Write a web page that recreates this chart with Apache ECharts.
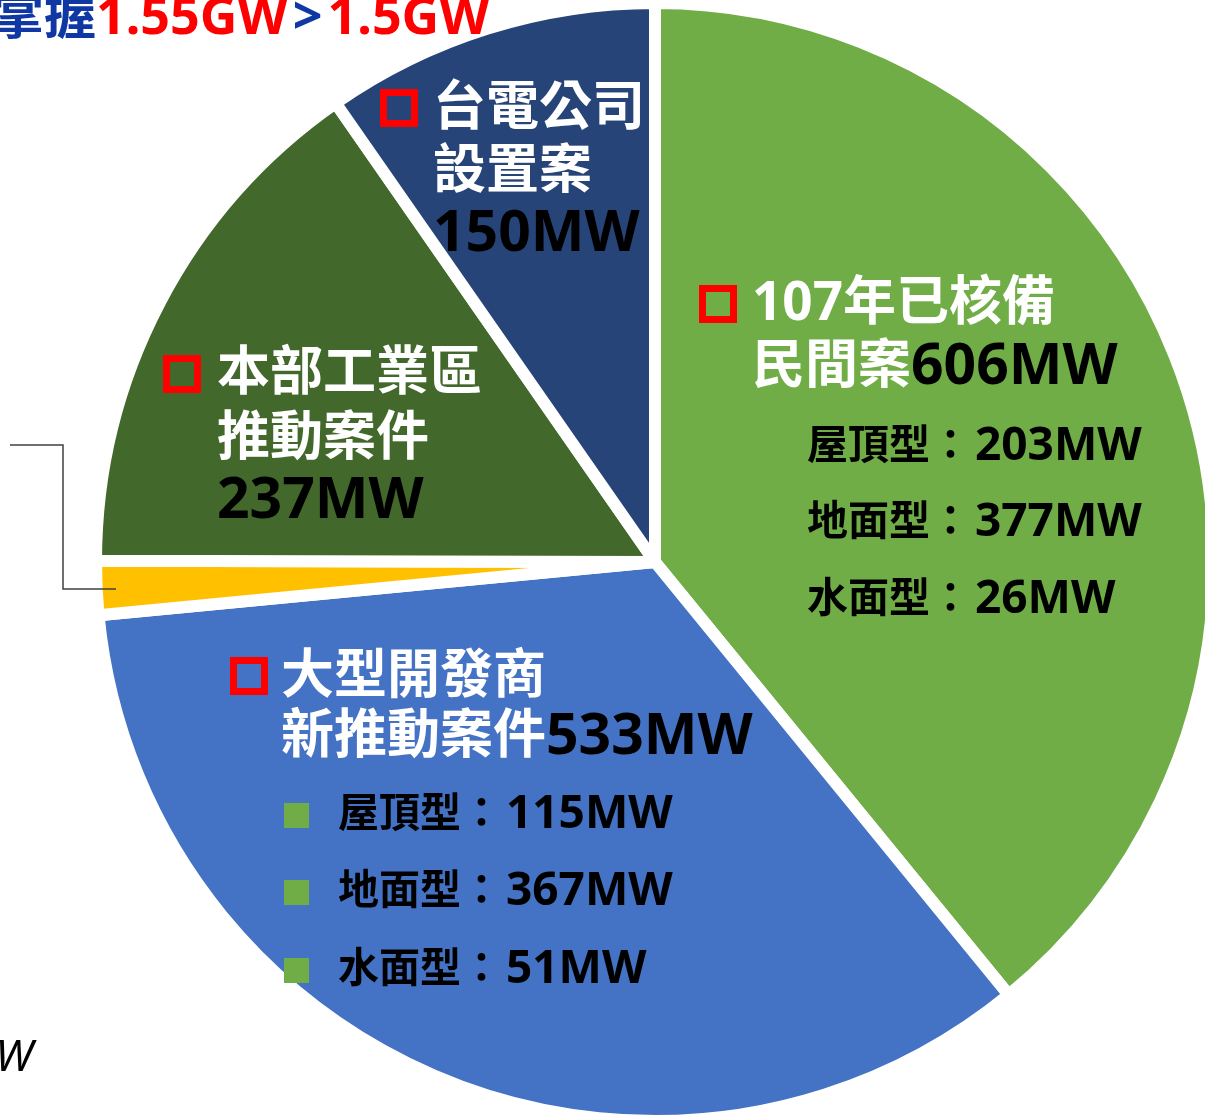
<!DOCTYPE html>
<html>
<head>
<meta charset="utf-8">
<script src="https://cdn.jsdelivr.net/npm/echarts@6/dist/echarts.min.js"></script>
<style>
  html, body { margin: 0; padding: 0; background: #fff; }
  #chart { width: 1205px; height: 1117px; }
</style>
</head>
<body>
<div id="chart"></div>
<script>
// 各類案件容量 (MW)
const sliceNames = ['107年已核備民間案', '大型開發商新推動案件', '其他', '本部工業區推動案件', '台電公司設置案']
const sliceValues = [606, 533, 24, 237, 150]
const sliceTitles = [['107年已核備', '民間案'], ['大型開發商', '新推動案件'], [], ['本部工業區', '推動案件'], ['台電公司', '設置案']]
const subTypes = ['屋頂型', '地面型', '水面型']
const privateSub = [203, 377, 26]
const developerSub = [115, 367, 51]
const unit = 'MW'

const sliceColors = ['#70AD47', '#4472C4', '#FFC000', '#43682B', '#264478']
const FONT = '"Noto Sans", "Noto Sans CJK TC", sans-serif'

const rich = {
  w: { fill: '#fff', font: 'bold 53px ' + FONT },
  k: { fill: '#000', font: 'bold 57px ' + FONT },
  sw: { fill: '#000', font: 'bold 41px ' + FONT },
  sk: { fill: '#000', font: 'bold 46px ' + FONT, padding: [0, 0, 0, 4] }
}

function txt(x, y, text) {
  return {
    type: 'text', silent: true, z: 100,
    style: { x: x, y: y, text: text, rich: rich, verticalAlign: 'middle', align: 'left' }
  }
}
function box(x, y) {
  // 紅色空心方框
  return {
    type: 'rect', silent: true, z: 100,
    shape: { x: x + 3.5, y: y + 3.5, width: 31, height: 31 },
    style: { fill: 'none', stroke: '#FF0000', lineWidth: 7 }
  }
}
function bullet(x, y) {
  return {
    type: 'rect', silent: true, z: 100,
    shape: { x: x, y: y, width: 25, height: 25 },
    style: { fill: '#70AD47' }
  }
}

const g = []
// 107年已核備民間案
g.push(box(699, 285))
g.push(txt(752, 305, '{w|' + sliceTitles[0][0] + '}'))
g.push(txt(752, 368, '{w|' + sliceTitles[0][1] + '}{k|' + sliceValues[0] + unit + '}'))
const subY1 = [447, 523, 600]
subTypes.forEach((t, i) => {
  g.push(txt(807, subY1[i], '{sw|' + t + '：}{sk|' + privateSub[i] + unit + '}'))
})
// 大型開發商
g.push(box(230, 657))
g.push(txt(281, 678, '{w|' + sliceTitles[1][0] + '}'))
g.push(txt(281, 738, '{w|' + sliceTitles[1][1] + '}{k|' + sliceValues[1] + unit + '}'))
const subY2 = [815, 892, 970]
subTypes.forEach((t, i) => {
  g.push(bullet(284, subY2[i] - 12))
  g.push(txt(338, subY2[i], '{sw|' + t + '：}{sk|' + developerSub[i] + unit + '}'))
})
// 本部工業區
g.push(box(163, 355))
g.push(txt(217, 375, '{w|' + sliceTitles[3][0] + '}'))
g.push(txt(217, 440, '{w|' + sliceTitles[3][1] + '}'))
g.push(txt(217, 502, '{k|' + sliceValues[3] + unit + '}'))
// 台電公司
g.push(box(380, 89))
g.push(txt(433, 110, '{w|' + sliceTitles[4][0] + '}'))
g.push(txt(433, 173, '{w|' + sliceTitles[4][1] + '}'))
g.push(txt(433, 235, '{k|' + sliceValues[4] + unit + '}'))

// 左上標題 (被裁切)
const total = sliceValues.reduce((a, b) => a + b, 0)
g.push({
  type: 'text', silent: true, z: 100,
  style: {
    x: -8, y: 19, verticalAlign: 'middle',
    text: '{b|掌握}{r|' + (total / 1000).toFixed(2) + 'GW}{g|>}{r|1.5GW}',
    rich: {
      b: { fill: '#1038A5', font: 'bold 52px ' + FONT },
      g: { fill: '#1038A5', font: 'bold 52px ' + FONT, padding: [0, 5, 0, 5] },
      r: { fill: '#FF0000', font: 'bold 52px ' + FONT }
    }
  }
})
// 左下被裁切文字
g.push({
  type: 'text', silent: true, z: 100,
  style: {
    x: 33, y: 1058, align: 'right', verticalAlign: 'middle', text: 'MW',
    fill: '#000', font: 'italic 44px ' + FONT
  }
})
// 小扇區引導線
g.push({
  type: 'polyline', silent: true, z: 100,
  shape: { points: [[10, 445], [63, 445], [63, 589], [116, 589]] },
  style: { stroke: '#404040', lineWidth: 1.5, fill: 'none' }
})

const chart = echarts.init(document.getElementById('chart'), null, { renderer: 'canvas' })
chart.setOption({
  animation: false,
  backgroundColor: '#fff',
  series: [{
    type: 'pie',
    center: [655, 562],
    radius: 559,
    startAngle: 90,
    clockwise: true,
    label: { show: false },
    labelLine: { show: false },
    emphasis: { disabled: true },
    itemStyle: { borderColor: '#fff', borderWidth: 12 },
    data: sliceNames.map((n, i) => ({ name: n, value: sliceValues[i], itemStyle: { color: sliceColors[i] } }))
  }],
  graphic: g
})
</script>
</body>
</html>
